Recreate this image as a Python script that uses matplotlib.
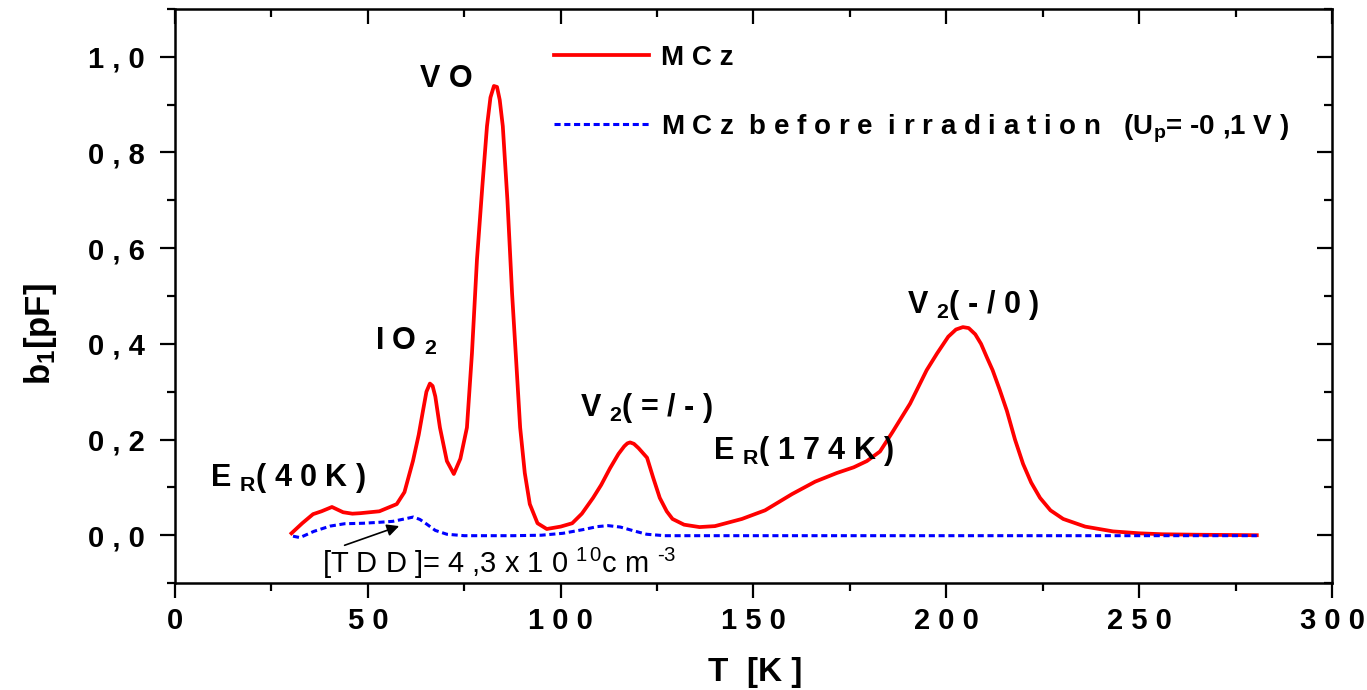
import matplotlib
matplotlib.use("Agg")
import matplotlib.pyplot as plt
from matplotlib.ticker import FixedLocator, FixedFormatter, MultipleLocator

plt.rcParams['font.family'] = ['Liberation Sans', 'DejaVu Sans']
plt.rcParams['mathtext.fontset'] = 'custom'
plt.rcParams['mathtext.rm'] = 'Liberation Sans'
plt.rcParams['mathtext.bf'] = 'Liberation Sans:bold'
plt.rcParams['mathtext.it'] = 'Liberation Sans:italic'

# ---------------- data ----------------
mcz_T = [30.2, 33, 35.8, 38, 40.7, 43.6, 46, 48, 53, 57.5, 59.5, 61.7, 63.2, 64.3,
         65.2, 66.1, 66.8, 67.5, 68.7, 70.5, 72.3, 74, 75.7, 77, 78.3, 79.7, 80.9,
         81.8, 82.7, 83.5, 84.2, 85, 86.2, 87.4, 88.5, 89.5, 90.7, 92, 94, 96.4,
         100, 103, 105.5, 108.4, 110.5, 112.8, 115, 116.5, 117.3, 118, 119, 120.2,
         122.4, 124, 125.7, 127.5, 129, 132, 136, 140, 147, 153, 160, 166, 171.6,
         176, 179.4, 182.8, 186, 190.6, 194.9, 197.6, 200.5, 202.5, 204.3, 205.8,
         207.5, 209, 210.5, 212, 213.8, 215.7, 217.8, 219.9, 222, 224.3, 227,
         230.3, 236, 243.2, 250, 256, 265, 280.5]
mcz_b = [0.004, 0.025, 0.044, 0.050, 0.059, 0.048, 0.045, 0.046, 0.050, 0.065,
         0.090, 0.155, 0.210, 0.260, 0.300, 0.317, 0.312, 0.290, 0.225, 0.155,
         0.128, 0.160, 0.225, 0.380, 0.576, 0.730, 0.855, 0.915, 0.939, 0.937,
         0.910, 0.855, 0.700, 0.506, 0.360, 0.225, 0.130, 0.065, 0.025, 0.013,
         0.018, 0.025, 0.045, 0.078, 0.105, 0.140, 0.170, 0.186, 0.192, 0.194,
         0.191, 0.182, 0.162, 0.120, 0.078, 0.050, 0.034, 0.022, 0.017, 0.019,
         0.034, 0.052, 0.086, 0.112, 0.130, 0.142, 0.155, 0.175, 0.215, 0.275,
         0.345, 0.380, 0.415, 0.430, 0.435, 0.433, 0.420, 0.400, 0.372, 0.345,
         0.305, 0.260, 0.200, 0.149, 0.110, 0.078, 0.052, 0.034, 0.018, 0.008,
         0.004, 0.002, 0.001, 0.000]

before_T = [30.6, 32.4, 36, 40.2, 44, 48.8, 53, 56.5, 59.5, 61.8, 63.5, 65.3, 67.5,
            70.5, 75, 87.7, 95, 100.6, 106, 109.5, 112.3, 115.5, 119, 122.3, 127,
            150, 200, 250, 280.5]
before_b = [-0.002, -0.005, 0.008, 0.019, 0.024, 0.025, 0.027, 0.029, 0.034, 0.038,
            0.033, 0.023, 0.010, 0.002, -0.001, -0.001, 0.000, 0.004, 0.012, 0.018,
            0.020, 0.017, 0.009, 0.002, -0.001, -0.001, -0.001, -0.001, -0.001]

xticks = [0, 50, 100, 150, 200, 250, 300]
xtick_labels = ["0", "5 0", "1 0 0", "1 5 0", "2 0 0", "2 5 0", "3 0 0"]
yticks = [0.0, 0.2, 0.4, 0.6, 0.8, 1.0]
ytick_labels = ["0 , 0", "0 , 2", "0 , 4", "0 , 6", "0 , 8", "1 , 0"]

label_mcz = "M C z"
label_before = r"M C z  b e f o r e  i r r a d i a t i o n   (U$_{\mathbf{p}}$= -0 ,1 V )"

# ---------------- figure ----------------
fig = plt.figure(figsize=(13.67, 6.90), dpi=100)
ax = fig.add_axes([0.128, 0.155, 0.8464, 0.832])

l1, = ax.plot(mcz_T, mcz_b, color='#ff0000', lw=2.7, solid_joinstyle='round')
l2, = ax.plot(before_T, before_b, color='#0000ff', lw=2.2, linestyle=(0, (2, 1.2)))

ax.set_xlim(0, 300)
ax.set_ylim(-0.1, 1.1)

ax.xaxis.set_major_locator(FixedLocator(xticks))
ax.xaxis.set_major_formatter(FixedFormatter(xtick_labels))
ax.xaxis.set_minor_locator(MultipleLocator(25))
ax.yaxis.set_major_locator(FixedLocator(yticks))
ax.yaxis.set_major_formatter(FixedFormatter(ytick_labels))
ax.yaxis.set_minor_locator(MultipleLocator(0.1))

for s in ax.spines.values():
    s.set_linewidth(1.8)

ax.tick_params(which='both', top=True, right=True, width=1.6)
ax.tick_params(axis='x', which='major', direction='out', length=11, pad=6,
               labelsize=21)
ax.tick_params(axis='y', which='major', direction='out', length=11, pad=11,
               labelsize=21)
ax.tick_params(which='minor', direction='out', length=6)
# inward ticks on top and right
for t in ax.xaxis.get_major_ticks() + ax.xaxis.get_minor_ticks():
    t.tick2line.set_marker(3)  # TICKDOWN
for t in ax.yaxis.get_major_ticks() + ax.yaxis.get_minor_ticks():
    t.tick2line.set_marker(0)  # TICKLEFT
for lab in ax.get_xticklabels() + ax.get_yticklabels():
    lab.set_fontweight('bold')

ax.set_xlabel("T  [K ]", fontsize=24, fontweight='bold')
ax.xaxis.set_label_coords(0.5015, -0.128)
ax.set_ylabel(r"b$_{\mathbf{1}}$[pF]", fontsize=25, fontweight='bold')
ax.yaxis.set_label_coords(-0.100, 0.434)

leg = ax.legend([l1, l2], [label_mcz, label_before], loc='upper left',
                bbox_to_anchor=(0.328, 0.937), frameon=False, handlelength=3.42,
                handletextpad=0.42, labelspacing=1.48, borderpad=0,
                borderaxespad=0, prop={'weight': 'bold', 'size': 20})

# ---------------- annotations ----------------
fs = 22
ax.text(9.1, 0.103, r"E $_{\mathbf{R}}$( 4 0 K )", fontsize=fs, fontweight='bold')
ax.text(51.9, 0.387, r"I O $_{\mathbf{2}}$", fontsize=fs, fontweight='bold')
ax.text(63.5, 0.937, "V O", fontsize=fs, fontweight='bold')
ax.text(105.0, 0.250, r"V $_{\mathbf{2}}$( = / - )", fontsize=fs, fontweight='bold')
ax.text(139.5, 0.160, r"E $_{\mathbf{R}}$( 1 7 4 K )", fontsize=fs, fontweight='bold')
ax.text(189.8, 0.464, r"V $_{\mathbf{2}}$( - / 0 )", fontsize=fs, fontweight='bold')

ax.text(38.1, -0.080, "[T D D ]= 4 ,3 x 1 0 $^{1\\,0}$c m $^{\u2010 3}$", fontsize=21)
ax.annotate("", xy=(58.8, 0.021), xytext=(43.3, -0.023),
            arrowprops=dict(arrowstyle='-|>', color='black', lw=1.2,
                            mutation_scale=18))

fig.savefig("out.png", dpi=100)
